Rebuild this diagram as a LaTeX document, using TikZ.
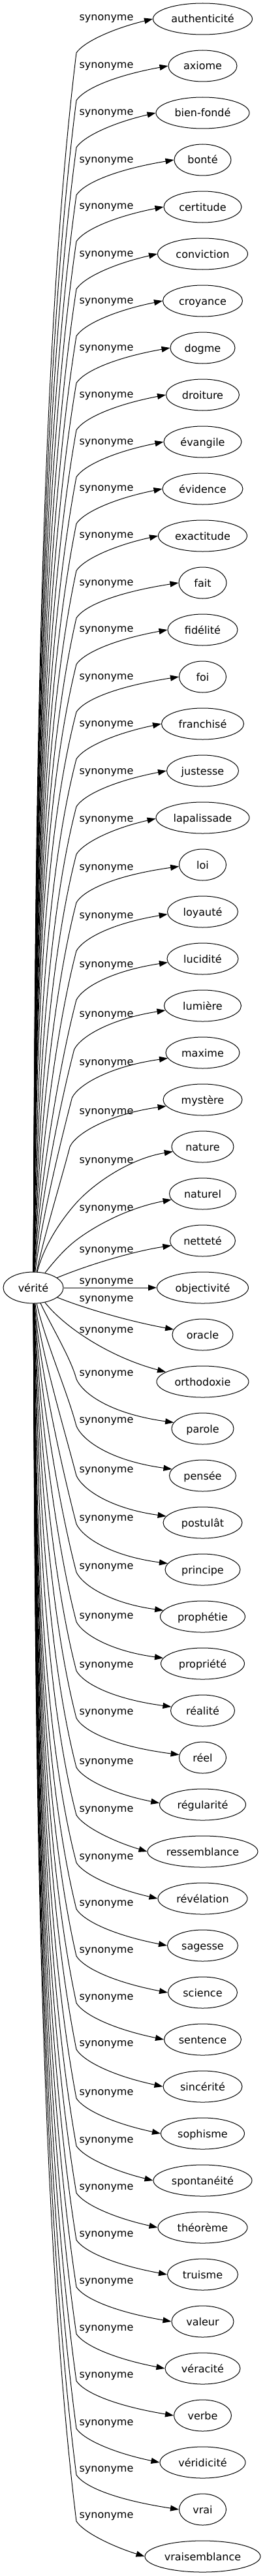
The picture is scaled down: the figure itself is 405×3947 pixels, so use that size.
\documentclass[tikz,border=0pt]{standalone}
\usepackage{fontspec}
\setmainfont{DejaVu Sans}
\usetikzlibrary{arrows.meta,shapes.geometric}
\begin{document}
\begin{tikzpicture}[x=1pt,y=-1pt,
  every node/.style={font=\fontsize{16}{19}\selectfont},
  word/.style={draw, ellipse, line width=1pt, inner sep=0pt, minimum height=48pt, text height=12pt, text depth=0pt},
  lab/.style={anchor=base, inner sep=0pt},
  edge/.style={draw, line width=1pt, -{Triangle[length=13pt,width=9pt]}}
]
\useasboundingbox (0,0) rectangle (405,3947);
\node[word, minimum width=92pt] (v) at (51,1973) {vérité};

\foreach \k/\ww/\txt in {0/152/authenticité,1/105/axiome,2/143/bien-fondé,3/87/bonté,4/119/certitude,5/138/conviction,6/122/croyance,7/99/dogme,8/112/droiture,9/119/évangile,10/123/évidence,11/136/exactitude,12/73/fait,13/107/fidélité,14/72/foi,15/126/franchisé,16/110/justesse,17/143/lapalissade,18/72/loi,19/108/loyauté,20/109/lucidité,21/118/lumière,22/113/maxime,23/121/mystère,24/95/nature,25/102/naturel,26/100/netteté,27/140/objectivité,28/93/oracle,29/141/orthodoxie,30/95/parole,31/102/pensée,32/121/postulât,33/115/principe,34/130/prophétie,35/128/propriété,36/98/réalité,37/72/réel,38/132/régularité,39/169/ressemblance,40/137/révélation,41/108/sagesse,42/106/science,43/118/sentence,44/121/sincérité,45/128/sophisme,46/151/spontanéité,47/137/théorème,48/108/truisme,49/95/valeur,50/115/véracité,51/88/verbe,52/131/véridicité,53/72/vrai,54/177/vraisemblance} {
  \pgfmathsetmacro\Yt{29+72*\k}
  \node[word, minimum width=\ww pt] (n\k) at (310.5,\Yt) {\txt};
}

% labels
\foreach \k/\ly in {0/27,1/100,2/172,3/245,4/316,5/389,6/461,7/533,8/605,9/677,10/748.5,11/820.5,12/893,13/964,14/1037,15/1109,16/1182,17/1255,18/1329,19/1403,20/1478,21/1554,22/1628,23/1703,24/1778,25/1851,26/1915,27/1963,28/1990,29/2038,30/2104,31/2176,32/2252,33/2326,34/2400,35/2476,36/2551,37/2623.5,38/2699,39/2772,40/2845,41/2916,42/2988,43/3060,44/3131,45/3206,46/3279,47/3351,48/3423,49/3495,50/3567,51/3639,52/3712,53/3783,54/3854} {
  \node[lab] (l\k) at (163,\ly+4.4) {synonyme};
}

% upper edges (far)
\foreach \k/\ww/\ly in {0/152/27,1/105/100,2/143/172,3/87/245,4/119/316,5/138/389,6/122/461,7/99/533,8/112/605,9/119/677,10/123/748.5,11/136/820.5,12/73/893,13/107/964,14/72/1037,15/126/1109,16/110/1182,17/143/1255,18/72/1329,19/108/1403,20/109/1478,21/118/1554,22/113/1628,23/121/1703} {
  \pgfmathsetmacro\Yt{29+72*\k}
  \pgfmathsetmacro\Yb{\ly+54}
  \pgfmathsetmacro\Xb{117-max(0,\k-20)*3.3}
  \pgfmathsetmacro\DD{1949-\Yb}
  \pgfmathsetmacro\dd{0.27*\DD}
  \pgfmathsetmacro\mm{min(62,0.26*\dd)}
  \pgfmathsetmacro\Xa{52+3000/\DD}
  \pgfmathsetmacro\Ya{1949-0.29*\DD}
  \pgfmathsetmacro\Xc{\Xb-\mm}
  \pgfmathsetmacro\Yc{\Yb+\dd}
  \pgfmathsetmacro\hh{\Yb-\Yt}
  \pgfmathsetmacro\Xq{\Xb+10}
  \pgfmathsetmacro\Yq{\Yb-0.3*\hh}
  \pgfmathsetmacro\Yr{\Yt+0.3*\hh}
  \pgfmathsetmacro\dy{max(0,\k-16)*1.4}
  \pgfmathtruncatemacro\ang{180+1.1*atan(\dy/(\ww/2))}
  \draw[edge] (v) .. controls (\Xa,\Ya) and (\Xc,\Yc) .. (\Xb,\Yb) .. controls (\Xq,\Yq) and (170,\Yr) .. (n\k.\ang);
}

% near-centre edges
\draw[edge] (v) .. controls (68,1905) and (98,1864) .. (117,1843) .. controls (145,1812) and (200,1775) .. (n24);
\draw[edge] (v) .. controls (85,1930) and (100,1913) .. (117,1900) .. controls (150,1875) and (200,1850) .. (n25);
\draw[edge] (v) .. controls (130,1940) and (200,1918) .. (n26);
\draw[edge] (v) -- (n27);
\draw[edge] (v) .. controls (130,2005) and (200,2025) .. (n28);
\draw[edge] (v) .. controls (100,2035) and (170,2080) .. (n29);

% lower edges (far)
\foreach \k/\ww/\ly in {30/95/2104,31/102/2176,32/121/2252,33/115/2326,34/130/2400,35/128/2476,36/98/2551,37/72/2623.5,38/132/2699,39/169/2772,40/137/2845,41/108/2916,42/106/2988,43/118/3060,44/121/3131,45/128/3206,46/151/3279,47/137/3351,48/108/3423,49/95/3495,50/115/3567,51/88/3639,52/131/3712,53/72/3783,54/177/3854} {
  \pgfmathsetmacro\Yt{29+72*\k}
  \pgfmathsetmacro\Yb{\ly+9}
  \pgfmathsetmacro\Xb{117}
  \pgfmathsetmacro\DD{\Yb-1997}
  \pgfmathsetmacro\dd{0.27*\DD}
  \pgfmathsetmacro\mm{min(62,0.26*\dd)}
  \pgfmathsetmacro\Xa{52+3000/\DD}
  \pgfmathsetmacro\Ya{1997+0.29*\DD}
  \pgfmathsetmacro\Xc{\Xb-\mm}
  \pgfmathsetmacro\Yc{\Yb-\dd}
  \pgfmathsetmacro\hh{\Yt-\Yb}
  \pgfmathsetmacro\Xq{\Xb+10}
  \pgfmathsetmacro\Yq{\Yb+0.3*\hh}
  \pgfmathsetmacro\Yr{\Yt-0.3*\hh}
  \pgfmathsetmacro\dy{max(0,min(9,(39-\k)*1.8))}
  \pgfmathtruncatemacro\ang{180-1.1*atan(\dy/(\ww/2))}
  \draw[edge] (v) .. controls (\Xa,\Ya) and (\Xc,\Yc) .. (\Xb,\Yb) .. controls (\Xq,\Yq) and (170,\Yr) .. (n\k.\ang);
}
\end{tikzpicture}
\end{document}
